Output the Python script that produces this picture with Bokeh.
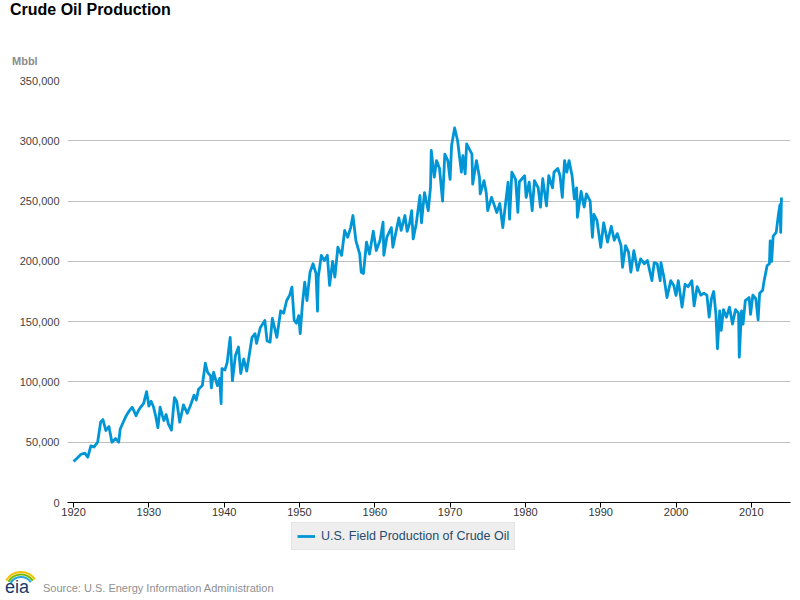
from bokeh.plotting import figure
from bokeh.models import (FixedTicker, NumeralTickFormatter, Legend, LegendItem,
                          Range1d, ColumnDataSource, Div)
from bokeh.layouts import column
from bokeh.embed import file_html
from bokeh.resources import INLINE
import math

# ---------------- data ----------------
years_1920_1943 = [
    1920.0, 1920.5, 1921.0, 1921.5, 1921.9, 1922.3, 1922.7, 1923.2, 1923.6, 1923.9,
    1924.3, 1924.7, 1925.1, 1925.6, 1926.0, 1926.2, 1926.7, 1927.0, 1927.4, 1927.8,
    1928.3, 1928.6, 1928.9, 1929.3, 1929.7, 1930.0, 1930.3, 1930.6, 1930.9, 1931.2,
    1931.5, 1931.8, 1932.0, 1932.3, 1932.6, 1933.0, 1933.4, 1933.7, 1934.1, 1934.6,
    1935.1, 1935.5, 1936.0, 1936.3, 1936.6, 1937.1, 1937.5, 1937.8, 1938.2, 1938.3,
    1938.6, 1939.1, 1939.4, 1939.6, 1939.7, 1940.1, 1940.4, 1940.8, 1941.1, 1941.5,
    1941.9, 1942.2, 1942.6, 1943.0, 1943.4, 1943.7,
]
prod_1920_1943 = [
    34000, 37000, 40000, 41000, 37600, 47000, 46000, 50000, 66600, 68800,
    59700, 63000, 50000, 53000, 50000, 61000, 68000, 72000, 76000, 79000,
    72000, 76000, 79000, 82000, 92000, 80000, 84000, 79600, 72000, 62000,
    79000, 72000, 68000, 73000, 65000, 60000, 87000, 84000, 66600, 81000,
    74000, 80000, 89000, 85000, 94000, 97000, 115500, 108000, 105000, 95000,
    108000, 97000, 103000, 82000, 111000, 110000, 116000, 137000, 101000, 122000,
    129000, 107000, 119000, 109000, 125000, 137000,
]

years_1944_1969 = [
    1944.1, 1944.3, 1944.8, 1945.4, 1945.7, 1946.1, 1946.4, 1947.0, 1947.5, 1947.9,
    1948.3, 1948.7, 1949.0, 1949.3, 1949.6, 1949.9, 1950.1, 1950.4, 1950.7, 1951.0,
    1951.4, 1951.8, 1952.2, 1952.4, 1952.5, 1952.9, 1953.3, 1953.7, 1954.0, 1954.4,
    1954.7, 1955.1, 1955.6, 1956.0, 1956.4, 1956.8, 1957.1, 1957.5, 1958.0, 1958.2,
    1958.5, 1958.9, 1959.3, 1959.8, 1960.2, 1960.7, 1961.1, 1961.2, 1961.6, 1962.2,
    1962.4, 1962.9, 1963.2, 1963.5, 1964.0, 1964.3, 1964.6, 1964.9, 1965.1, 1965.5,
    1966.0, 1966.2, 1966.6, 1967.1, 1967.4, 1967.5, 1967.9, 1968.2, 1968.6, 1969.0,
    1969.3, 1969.7,
]
prod_1944_1969 = [
    140000, 132000, 145000, 151000, 134000, 133000, 152600, 137000, 159000, 157000,
    167500, 172000, 178600, 151000, 148700, 155000, 140000, 165000, 182700, 167500,
    191000, 198000, 190000, 158700, 187000, 205000, 200700, 205000, 180000, 200000,
    187000, 211700, 205000, 225600, 220000, 228000, 238000, 217000, 206000, 191000,
    190000, 216000, 206000, 225000, 209000, 217500, 232500, 205000, 220000, 228000,
    211700, 227000, 236000, 225700, 238000, 225000, 231000, 242000, 218600, 231000,
    254600, 232000, 257000, 242000, 261500, 292000, 269800, 283600, 277000, 250000,
    289000, 283600,
]

years_1970_1991 = [
    1970.0, 1970.2, 1970.6, 1971.0, 1971.5, 1971.7, 1972.0, 1972.2, 1972.9, 1973.0,
    1973.5, 1973.9, 1974.0, 1974.5, 1974.8, 1975.0, 1975.5, 1975.9, 1976.2, 1976.6,
    1977.0, 1977.4, 1977.7, 1977.9, 1978.2, 1978.7, 1979.0, 1979.2, 1979.9, 1980.1,
    1980.5, 1980.9, 1981.2, 1981.7, 1982.0, 1982.3, 1982.8, 1983.1, 1983.6, 1983.8,
    1984.3, 1984.6, 1984.9, 1985.2, 1985.5, 1985.8, 1986.2, 1986.5, 1986.8, 1986.9,
    1987.4, 1987.8, 1988.1, 1988.6, 1988.9, 1989.1, 1989.5, 1990.0, 1990.4, 1990.9,
    1991.4, 1991.8,
]
prod_1970_1991 = [
    268000, 296000, 310700, 300000, 274000, 287600, 272600, 297500, 289000, 264000,
    283600, 269800, 256000, 267000, 257000, 242000, 253000, 246000, 240500, 248000,
    228000, 250000, 265700, 235000, 274000, 268000, 240700, 266000, 271000, 253000,
    265700, 242000, 267000, 261000, 245000, 268500, 246000, 271000, 261000, 274000,
    277000, 271000, 253000, 283600, 274000, 283600, 271000, 251800, 261000, 236600,
    258000, 245000, 256000, 250000, 220000, 239000, 234000, 211700, 232000, 216000,
    229000, 217500,
]

years_1992_2014 = [
    1992.2, 1992.7, 1992.9, 1993.3, 1993.7, 1994.0, 1994.4, 1994.9, 1995.3, 1995.8,
    1996.2, 1996.8, 1997.1, 1997.5, 1997.9, 1998.0, 1998.4, 1998.8, 1999.3, 1999.7,
    2000.0, 2000.3, 2000.8, 2001.2, 2001.6, 2002.1, 2002.4, 2002.8, 2003.3, 2003.7,
    2004.1, 2004.4, 2004.7, 2005.0, 2005.3, 2005.5, 2005.8, 2006.0, 2006.3, 2006.7,
    2007.1, 2007.5, 2007.9, 2008.3, 2008.4, 2008.7, 2008.9, 2009.2, 2009.7, 2009.9,
    2010.2, 2010.6, 2010.9, 2011.1, 2011.5, 2011.7, 2012.1, 2012.4, 2012.5, 2012.7,
    2012.9, 2013.3, 2013.6, 2013.8, 2013.9, 2014.0,
]
prod_1992_2014 = [
    223000, 213000, 195000, 213000, 207400, 191000, 208800, 192500, 202000, 198000,
    200700, 184000, 199000, 198000, 184000, 199000, 186600, 170000, 184000, 180000,
    171700, 184000, 162000, 181000, 179000, 184000, 163000, 179000, 172000, 173500,
    172000, 153700, 169000, 175000, 156000, 127500, 159000, 142700, 160000, 153700,
    162000, 148000, 160000, 157000, 120500, 159000, 148000, 167500, 170000, 156000,
    172000, 169000, 151500, 173500, 176000, 184000, 196500, 198000, 217000, 200000,
    221000, 224000, 239000, 247000, 224000, 253000,
]

x_ticks = [1920, 1930, 1940, 1950, 1960, 1970, 1980, 1990, 2000, 2010]
y_ticks = [0, 50000, 100000, 150000, 200000, 250000, 300000, 350000]

title_text = "Crude Oil Production"
unit_text = "Mbbl"
series_name = "U.S. Field Production of Crude Oil"
source_text = "Source: U.S. Energy Information Administration"
logo_text = "eia"

years = years_1920_1943 + years_1944_1969 + years_1970_1991 + years_1992_2014
production = prod_1920_1943 + prod_1944_1969 + prod_1970_1991 + prod_1992_2014

FONT = "Liberation Sans"
LINE_COLOR = "#0096d6"
W = 798
FL, FR = 67, 790            # frame left/right on the page

# ---------------- header (page y 0..70) ----------------
HEAD_H = 70
head_html = (
    f'<div style="position:relative;width:{W}px;height:{HEAD_H}px;margin:0;padding:0;'
    f'font-family:\'{FONT}\';">'
    f'<span style="position:absolute;left:10px;top:2px;font-size:16px;line-height:16px;'
    f'font-weight:bold;color:#000;white-space:nowrap;">{title_text}</span>'
    f'<span style="position:absolute;left:12px;top:56px;font-size:11px;line-height:11px;'
    f'font-weight:bold;color:#8c8c8c;white-space:nowrap;">{unit_text}</span>'
    '</div>'
)
head = Div(text=head_html, width=W, height=HEAD_H, margin=0,
           styles={"margin": "0", "padding": "0"})

# ---------------- main chart (page y 70..522, frame y 80..502) ----------------
MAIN_H = 452
p = figure(width=W, height=MAIN_H, output_backend="svg", toolbar_location=None,
           x_range=Range1d(1919.2, 2015.2), y_range=Range1d(0, 350000),
           min_border_left=FL, min_border_right=W - FR, min_border_top=10,
           min_border_bottom=20)
p.outline_line_color = None

src = ColumnDataSource(dict(x=years, y=production))
r = p.line("x", "y", source=src, line_color=LINE_COLOR, line_width=2.8,
           line_join="round")

xa = p.xaxis[0]
xa.ticker = FixedTicker(ticks=x_ticks)
xa.axis_line_color = "#000000"
xa.axis_line_width = 1
xa.major_tick_line_color = "#000000"
xa.major_tick_out = 5
xa.major_tick_in = 0
xa.minor_tick_line_color = None
xa.major_label_text_font = FONT
xa.major_label_text_font_size = "11px"
xa.major_label_text_color = "#333333"
xa.major_label_standoff = 0

ya = p.yaxis[0]
ya.ticker = FixedTicker(ticks=y_ticks)
ya.formatter = NumeralTickFormatter(format="0,0")
ya.axis_line_color = None
ya.major_tick_line_color = None
ya.minor_tick_line_color = None
ya.major_tick_out = 0
ya.major_label_standoff = 8
ya.major_label_text_font = FONT
ya.major_label_text_font_size = "11px"
ya.major_label_text_color = "#444444"

p.xgrid.grid_line_color = None
p.ygrid.grid_line_color = "#c0c0c0"
p.ygrid.grid_line_width = 1
p.ygrid.ticker = FixedTicker(ticks=y_ticks)

# ---------------- legend strip (page y 522..556) ----------------
LEG_H = 34
lf = figure(width=W, height=LEG_H, output_backend="svg", toolbar_location=None,
            x_range=Range1d(0, 1), y_range=Range1d(0, 1),
            x_axis_type=None, y_axis_type=None,
            min_border_left=FL, min_border_right=W - FR, min_border_top=0,
            min_border_bottom=0)
lf.grid.visible = False
lf.outline_line_color = None
# series swatch renderer: same style as the chart line, kept outside the visible range
lr = lf.line(x=[-5, -4], y=[-5, -5], line_color=LINE_COLOR, line_width=2.8)
legend = Legend(items=[LegendItem(label=series_name, renderers=[lr])],
                location=(291 - FL, 6), orientation="horizontal",
                background_fill_color="#eeeeee", background_fill_alpha=1,
                border_line_color="#d9d9d9", border_line_width=1,
                padding=5, margin=0, spacing=0,
                glyph_width=18, glyph_height=16, label_height=16,
                label_standoff=6, label_text_font=FONT,
                label_text_font_size="12.5px", label_text_color="#274b6d")
lf.add_layout(legend, "center")

# ---------------- footer: logo and source (page y 556..596) ----------------
FOOT_H = 40
arc_specs = [(17.0, "#f2c200"), (14.5, "#7ab800"), (12.0, "#2aa6de")]
cx, cy = 21.0, 33.0
arc_paths = ""
for rad, col in arc_specs:
    a0, a1 = math.radians(150), math.radians(35)
    x0, y0 = cx + rad * math.cos(a0), cy - rad * math.sin(a0)
    x1, y1 = cx + rad * math.cos(a1), cy - rad * math.sin(a1)
    arc_paths += (f'<path d="M {x0:.2f} {y0:.2f} A {rad} {rad} 0 0 1 {x1:.2f} {y1:.2f}" '
                  f'fill="none" stroke="{col}" stroke-width="2.2"/>')
logo_svg = (
    f'<svg width="45" height="{FOOT_H}" style="position:absolute;left:0;top:0;'
    f'overflow:visible;" xmlns="http://www.w3.org/2000/svg">{arc_paths}'
    f'<text x="5" y="37" font-family="DejaVu Serif" font-size="18" fill="#123a6b">'
    f'{logo_text}</text></svg>'
)
foot_html = (
    f'<div style="position:relative;width:{W}px;height:{FOOT_H}px;margin:0;padding:0;'
    f'font-family:\'{FONT}\';">{logo_svg}'
    f'<span style="position:absolute;left:43px;top:27px;font-size:11px;line-height:11px;'
    f'color:#909090;white-space:nowrap;">{source_text}</span>'
    '</div>'
)
foot = Div(text=foot_html, width=W, height=FOOT_H, margin=0,
           styles={"margin": "0", "padding": "0"})

layout = column(head, p, lf, foot, spacing=0)
open("out.html", "w").write(file_html(layout, INLINE))
